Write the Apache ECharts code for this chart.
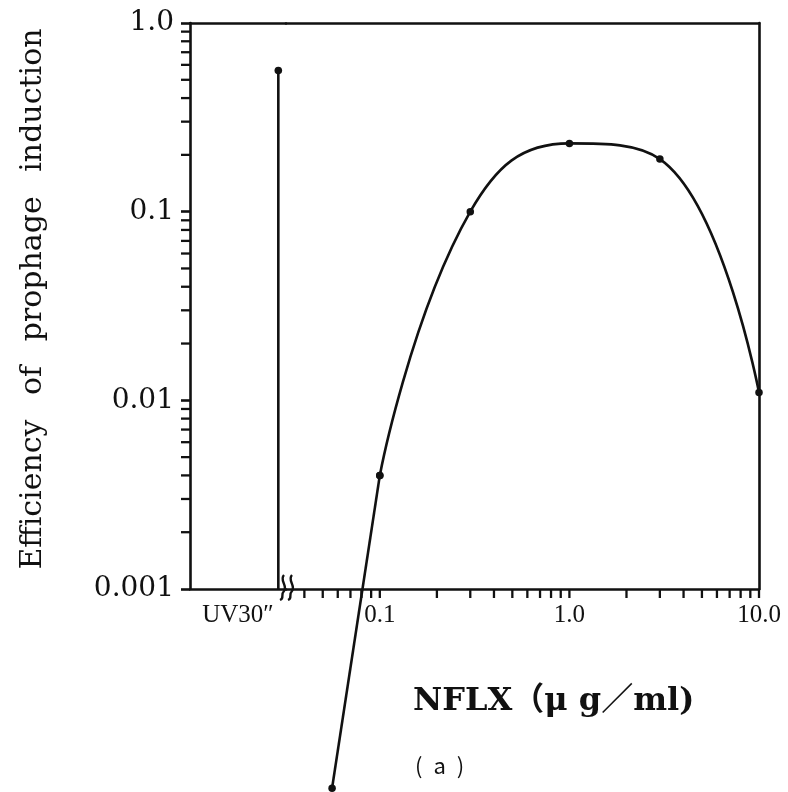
<!DOCTYPE html>
<html><head><meta charset="utf-8">
<script src="https://cdn.jsdelivr.net/npm/echarts@6/dist/echarts.min.js"></script>
<style>html,body{margin:0;padding:0;background:#fff}#c{width:788px;height:792px}</style>
</head><body><div id="c"></div>
<script>
// ---- data ----
const uvCategories = ['UV30\u2033'];
const uvValues = [0.56];
const nflxDoses = [0.056, 0.1, 0.3, 1.0, 3.0, 10.0];
const nflxEfficiency = [0.000088, 0.004, 0.1, 0.23, 0.19, 0.011];
const xMajorTicks = [0.1, 1, 10];
const xMajorLabels = ['0.1', '1.0', '10.0'];
const xMinorTicks = [0.04, 0.05, 0.06, 0.07, 0.08, 0.09,
  0.2, 0.3, 0.4, 0.5, 0.6, 0.7, 0.8, 0.9,
  2, 3, 4, 5, 6, 7, 8, 9];
const yMajorTicks = [0.001, 0.01, 0.1, 1];
const yMajorLabels = ['0.001', '0.01', '0.1', '1.0'];
const yMinorTicks = [0.002, 0.003, 0.004, 0.005, 0.006, 0.007, 0.008, 0.009,
  0.02, 0.03, 0.04, 0.05, 0.06, 0.07, 0.08, 0.09,
  0.2, 0.3, 0.4, 0.5, 0.6, 0.7, 0.8, 0.9];
const yTitle = 'Efficiency \u2002of \u2002prophage \u2002induction';
const xTitle = 'NFLX\uFF08\u03BC g\uFF0Fml)';
const panelLabel = '(\u2002a\u2002)';

// ---- chart ----
const INK = '#111';
const LW = 2.6;
const chart = echarts.init(document.getElementById('c'), null, {renderer: 'canvas'});

function majorLabel(ticks, labels) {
  return function (v) {
    const i = ticks.findIndex(t => Math.abs(Math.log10(t) - Math.log10(v)) < 1e-6);
    return i >= 0 ? labels[i] : '';
  };
}
const lineOnly = {show: true, lineStyle: {color: INK, width: LW}};
const yMin = yMajorTicks[0], yMax = yMajorTicks[yMajorTicks.length - 1];

chart.setOption({
  animation: false,
  backgroundColor: '#fff',
  grid: [
    {left: 190, top: 23, width: 96, bottom: 203},
    {left: 286, top: 23, right: 29, bottom: 203}
  ],
  xAxis: [
    {gridIndex: 0, type: 'category', data: uvCategories, position: 'bottom',
      axisLine: lineOnly, axisTick: {show: false},
      axisLabel: {color: INK, fontFamily: 'Liberation Serif', fontSize: 25, margin: 14}},
    {gridIndex: 0, type: 'category', data: uvCategories, position: 'top',
      axisLine: lineOnly, axisTick: {show: false}, axisLabel: {show: false}},
    {gridIndex: 1, type: 'log', min: 0.032, max: 10, position: 'bottom',
      axisLine: lineOnly, axisTick: {show: false}, splitLine: {show: false},
      axisLabel: {color: INK, fontFamily: 'Liberation Serif', fontSize: 25, margin: 14,
        showMinLabel: true, formatter: majorLabel(xMajorTicks, xMajorLabels)}},
    {gridIndex: 1, type: 'log', min: 0.032, max: 10, position: 'top',
      axisLine: lineOnly, axisTick: {show: false}, axisLabel: {show: false}, splitLine: {show: false}}
  ],
  yAxis: [
    {gridIndex: 0, type: 'log', min: yMin, max: yMax, position: 'left',
      axisLine: lineOnly,
      axisTick: {show: true, inside: false, length: 9, lineStyle: {color: INK, width: LW}},
      splitLine: {show: false},
      axisLabel: {color: INK, fontFamily: 'DejaVu Serif', fontSize: 28, margin: 16,
        formatter: majorLabel(yMajorTicks, yMajorLabels)},
      name: yTitle, nameLocation: 'middle', nameGap: 142,
      nameTextStyle: {color: INK, fontFamily: 'DejaVu Serif', fontSize: 30, padding: [0, 0, 0, 14]}},
    {gridIndex: 1, type: 'log', min: yMin, max: yMax, position: 'right',
      axisLine: lineOnly, axisTick: {show: false}, axisLabel: {show: false}, splitLine: {show: false}}
  ],
  graphic: [
    {type: 'text', left: 413, top: 686,
      style: {text: xTitle, fill: INK, font: 'bold 32px "DejaVu Serif", "Noto Sans CJK JP"'}},
    {type: 'text', left: 415, top: 755,
      style: {text: panelLabel, fill: INK, font: '22px "Noto Sans CJK JP"'}}
  ],
  series: [
    // UV30" drop line
    {type: 'custom', xAxisIndex: 0, yAxisIndex: 0, silent: true,
      data: uvValues.map((v, i) => [i, v]),
      renderItem: function (params, api) {
        const top = api.coord([api.value(0), api.value(1)]);
        const base = api.coord([api.value(0), yMin]);
        const bw = api.size([1, 0])[0];
        const x = top[0] + bw * 0.42;
        return {type: 'group', children: [
          {type: 'line', shape: {x1: x, y1: base[1], x2: x, y2: top[1]},
            style: {stroke: INK, lineWidth: LW}},
          {type: 'circle', shape: {cx: x, cy: top[1], r: 3.8}, style: {fill: INK}}
        ]};
      }},
    // y minor ticks
    {type: 'custom', xAxisIndex: 0, yAxisIndex: 0, silent: true,
      data: yMinorTicks.map(v => [0, v]),
      renderItem: function (params, api) {
        const p = api.coord([0, api.value(1)]);
        const x0 = p[0] - api.size([1, 0])[0] / 2;
        return {type: 'line', shape: {x1: x0 - 9, y1: p[1], x2: x0, y2: p[1]},
          style: {stroke: INK, lineWidth: 2.3}};
      }},
    // axis break marks
    {type: 'custom', xAxisIndex: 0, yAxisIndex: 0, silent: true, z: 5,
      data: [[0, yMin]],
      renderItem: function (params, api) {
        const p = api.coord([0, yMin]);
        const xe = p[0] + api.size([1, 0])[0] / 2;
        const y0 = p[1];
        const mk = cx => ({type: 'path', shape: {pathData:
          'M' + (cx + 1) + ' ' + (y0 - 14) +
          ' C' + (cx - 4) + ' ' + (y0 - 9) + ',' + (cx + 5) + ' ' + (y0 - 3) + ',' + (cx + 1) + ' ' + (y0 + 2) +
          ' C' + (cx - 3) + ' ' + (y0 + 6) + ',' + (cx + 2) + ' ' + (y0 + 9) + ',' + (cx - 3) + ' ' + (y0 + 11)},
          style: {stroke: INK, fill: null, lineWidth: 2.4}});
        return {type: 'group', children: [mk(xe - 3), mk(xe + 5)]};
      }},
    // x ticks (log axis)
    {type: 'custom', xAxisIndex: 2, yAxisIndex: 1, silent: true,
      data: xMinorTicks.concat(xMajorTicks).map(v => [v, yMin]),
      renderItem: function (params, api) {
        const p = api.coord([api.value(0), yMin]);
        return {type: 'line', shape: {x1: p[0], y1: p[1], x2: p[0], y2: p[1] + 9},
          style: {stroke: INK, lineWidth: 2.3}};
      }},
    // low-dose straight segment
    {type: 'line', xAxisIndex: 2, yAxisIndex: 1, clip: false, smooth: false,
      symbol: 'circle', symbolSize: 7.5, showSymbol: true,
      lineStyle: {color: INK, width: LW}, itemStyle: {color: INK},
      data: nflxDoses.slice(0, 2).map((d, i) => [d, nflxEfficiency[i]])},
    // smooth dose-response curve
    {type: 'line', xAxisIndex: 2, yAxisIndex: 1, clip: false, smooth: 0.45,
      symbol: 'circle', symbolSize: 7.5, showSymbol: true,
      lineStyle: {color: INK, width: LW}, itemStyle: {color: INK},
      data: nflxDoses.slice(1).map((d, i) => [d, nflxEfficiency[i + 1]])}
  ]
});
</script>
</body></html>
